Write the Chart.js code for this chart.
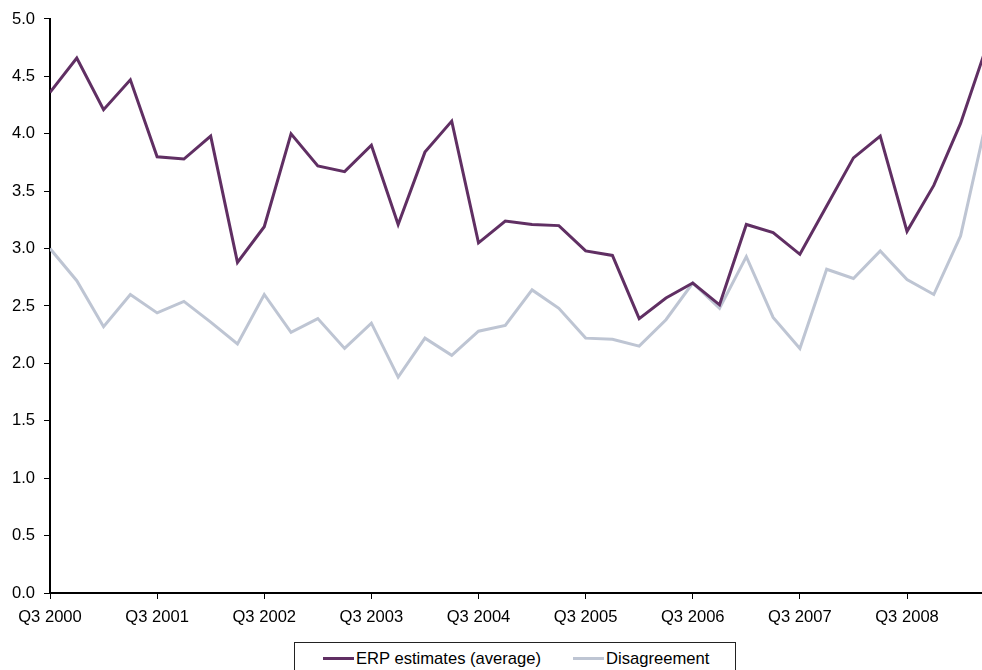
<!DOCTYPE html>
<html>
<head>
<meta charset="utf-8">
<title>ERP estimates and disagreement</title>
<script src="https://cdn.jsdelivr.net/npm/chart.js@4.4.1/dist/chart.umd.min.js"></script>
<style>
  html, body { margin: 0; padding: 0; background: #fff; overflow: hidden; }
  body { width: 982px; height: 670px; position: relative; font-family: "Liberation Sans", Arial, sans-serif; }
  #wrap { position: absolute; left: 0; top: 0; width: 982px; height: 640px; }
  #legend {
    position: absolute; left: 294px; top: 642px; width: 442px; height: 40px;
    border: 1px solid #222; box-sizing: border-box; font-size: 16.6px; color: #000;
  }
  #legend .item { position: absolute; top: 6px; white-space: nowrap; line-height: 20px; }
  #legend .swatch { display: inline-block; width: 31px; height: 3px; vertical-align: middle; margin-right: 2px; position: relative; top: -1px; }
</style>
</head>
<body>
<div id="wrap"><canvas id="chart"></canvas></div>
<div id="legend"></div>
<script>
// quarterly survey points, Q3 2000 .. Q2 2009
const quarters = [
  "Q3 2000", "Q4 2000", "Q1 2001", "Q2 2001",
  "Q3 2001", "Q4 2001", "Q1 2002", "Q2 2002",
  "Q3 2002", "Q4 2002", "Q1 2003", "Q2 2003",
  "Q3 2003", "Q4 2003", "Q1 2004", "Q2 2004",
  "Q3 2004", "Q4 2004", "Q1 2005", "Q2 2005",
  "Q3 2005", "Q4 2005", "Q1 2006", "Q2 2006",
  "Q3 2006", "Q4 2006", "Q1 2007", "Q2 2007",
  "Q3 2007", "Q4 2007", "Q1 2008", "Q2 2008",
  "Q3 2008", "Q4 2008", "Q1 2009", "Q2 2009"
];

const erpAverage = [
  4.36, 4.66, 4.21, 4.47, 3.80, 3.78, 3.98, 2.88, 3.19, 4.00, 3.72, 3.67,
  3.90, 3.21, 3.84, 4.11, 3.05, 3.24, 3.21, 3.20, 2.98, 2.94, 2.39, 2.57,
  2.70, 2.51, 3.21, 3.14, 2.95, 3.37, 3.79, 3.98, 3.15, 3.55, 4.09, 4.78
];

const disagreement = [
  3.00, 2.72, 2.32, 2.60, 2.44, 2.54, 2.36, 2.17, 2.60, 2.27, 2.39, 2.13,
  2.35, 1.88, 2.22, 2.07, 2.28, 2.33, 2.64, 2.48, 2.22, 2.21, 2.15, 2.38,
  2.70, 2.48, 2.93, 2.40, 2.13, 2.82, 2.74, 2.98, 2.73, 2.60, 3.11, 4.15
];

// one label per year, every fourth quarter
const xTickIndex = [0, 4, 8, 12, 16, 20, 24, 28, 32];
const yTicks = [0, 0.5, 1, 1.5, 2, 2.5, 3, 3.5, 4, 4.5, 5];

const FONT = { family: '"Liberation Sans", Arial, sans-serif', size: 16.6 };

const toPoints = arr => arr.map((v, i) => ({ x: i, y: v }));

const chart = new Chart(document.getElementById("chart"), {
  type: "line",
  data: {
    datasets: [
      {
        label: "ERP estimates (average)",
        data: toPoints(erpAverage),
        borderColor: "#602f63",
        backgroundColor: "#602f63",
        borderWidth: 3,
        pointRadius: 0,
        tension: 0
      },
      {
        label: "Disagreement",
        data: toPoints(disagreement),
        borderColor: "#bec5d3",
        backgroundColor: "#bec5d3",
        borderWidth: 3,
        pointRadius: 0,
        tension: 0
      }
    ]
  },
  options: {
    responsive: true,
    maintainAspectRatio: false,
    animation: false,
    layout: { padding: { top: 17, right: 0, bottom: 0, left: 0 } },
    plugins: {
      legend: { display: false },
      tooltip: { enabled: false }
    },
    scales: {
      x: {
        type: "linear",
        min: 0,
        max: 34.8,
        afterBuildTicks: s => { s.ticks = xTickIndex.map(v => ({ value: v })); },
        afterFit: s => { s.height = 47; },
        border: { display: true, color: "#000", width: 2 },
        grid: { drawOnChartArea: false, drawTicks: true, tickLength: 6, color: "#000", tickWidth: 1 },
        ticks: {
          color: "#000",
          font: FONT,
          padding: 8,
          maxRotation: 0,
          autoSkip: false,
          callback: v => quarters[v]
        }
      },
      y: {
        min: 0,
        max: 5,
        afterBuildTicks: s => { s.ticks = yTicks.map(v => ({ value: v })); },
        afterFit: s => { s.width = 50; },
        border: { display: true, color: "#000", width: 2 },
        grid: { drawOnChartArea: false, drawTicks: true, tickLength: 6, color: "#000", tickWidth: 1 },
        ticks: {
          color: "#000",
          font: FONT,
          padding: 9,
          callback: v => v.toFixed(1)
        }
      }
    }
  }
});

// legend boxed under the plot, built from the datasets
const legend = document.getElementById("legend");
const itemLeft = [28, 278];
chart.data.datasets.forEach((ds, i) => {
  const item = document.createElement("div");
  item.className = "item";
  item.style.left = itemLeft[i] + "px";
  item.innerHTML = `<span class="swatch" style="background:${ds.borderColor}"></span>${ds.label}`;
  legend.appendChild(item);
});
</script>
</body>
</html>
